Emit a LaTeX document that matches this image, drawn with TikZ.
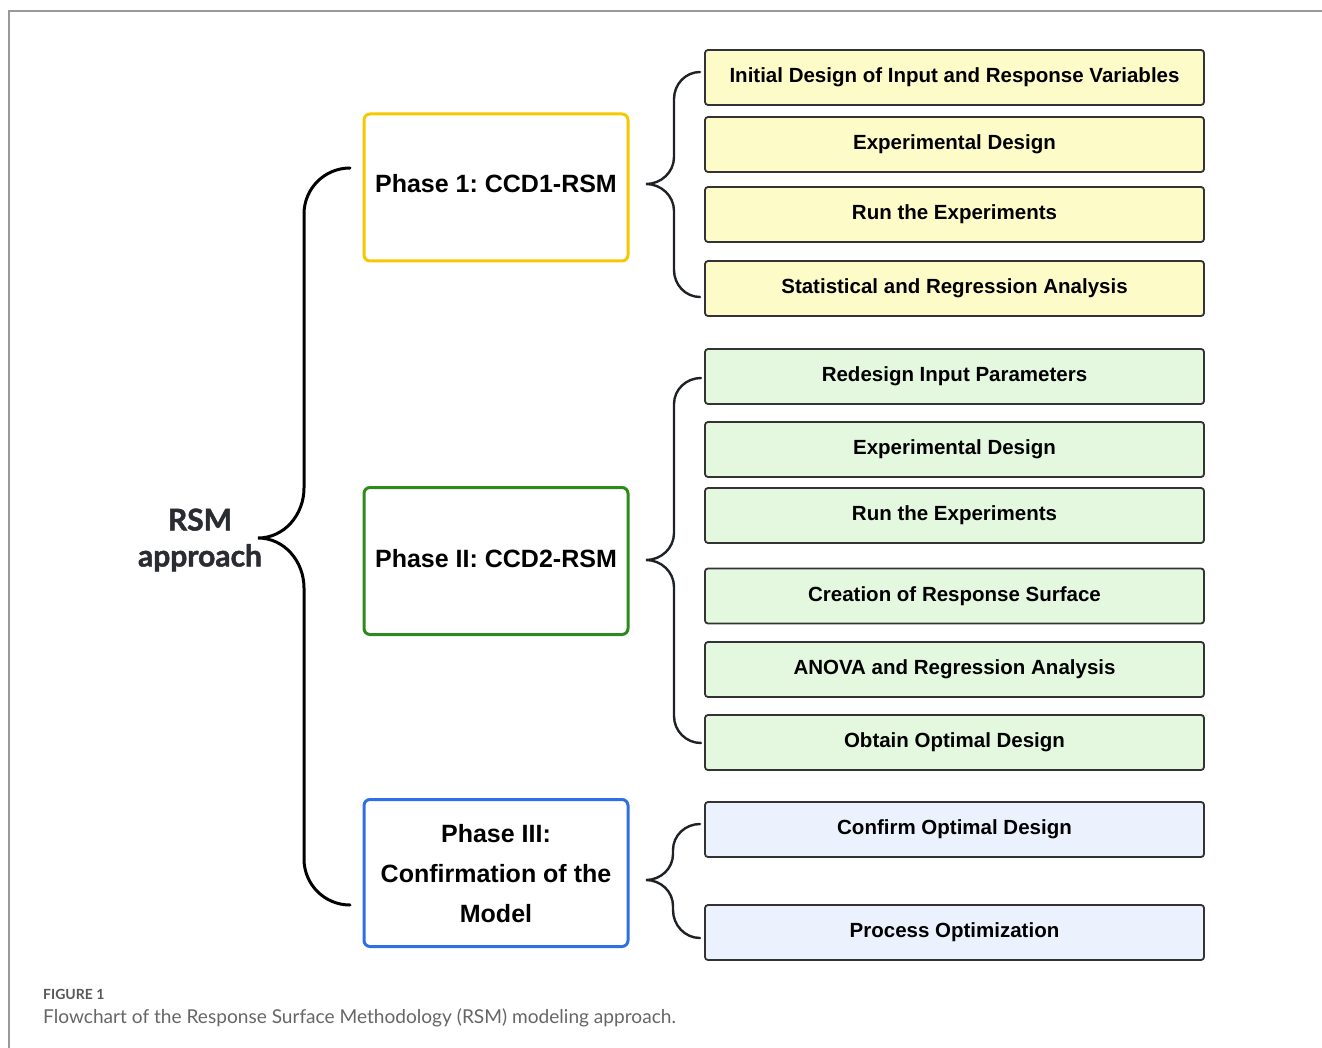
\documentclass[tikz,border=0pt]{standalone}
\usepackage{fontspec}
\setmainfont{Liberation Sans}
\newfontfamily\latofont{Lato}
\newfontfamily\latobold{Lato Bold}
\newfontfamily\latoheavy{Lato Bold}[FakeBold=1.6]
\usetikzlibrary{positioning,calc}
\frenchspacing

\definecolor{phaseone}{HTML}{F5C800}
\definecolor{phasetwo}{HTML}{2E8A1C}
\definecolor{phasethree}{HTML}{2F6FE3}
\definecolor{fillone}{HTML}{FDFBC8}
\definecolor{filltwo}{HTML}{E3F8DF}
\definecolor{fillthree}{HTML}{EBF2FD}
\definecolor{boxline}{HTML}{333333}
\definecolor{bracecol}{HTML}{1E2226}
\definecolor{rsmtext}{HTML}{2A2C32}
\definecolor{captiongray}{HTML}{666666}

\begin{document}
\begin{tikzpicture}[x=1pt, y=-1pt,
      phase/.style={draw, fill=white, line width=3pt, rounded corners=6pt,
        minimum width=264pt, minimum height=147pt, align=center,
        font=\fontsize{25}{40}\selectfont\bfseries},
      stepbox/.style={draw=boxline, line width=1.8pt, rounded corners=3pt,
        minimum width=499pt, minimum height=55pt,
        font=\fontsize{20.5}{24}\selectfont\bfseries},
      bigbrace/.style={draw=black, line width=3pt, line cap=round},
      smallbrace/.style={draw=bracecol, line width=2.4pt, line cap=round}]
      \useasboundingbox (0,0) rectangle (1322,1048);
      % frame round the figure
      \draw[gray!80, line width=1.4pt] (1322,11) -- (9,11) -- (9,1048);

      \node[font=\latoheavy\fontsize{30}{36}\selectfont,
        text=rsmtext, align=center] (rsm) at (200,540) {RSM\\approach};

      % the three phases
      \node[phase, draw=phaseone, text depth=8pt] (ph1) at (496,187.5)
        {Phase 1: CCD1-RSM};
      \node[phase, draw=phasetwo, text depth=6pt] (ph2) at (496,561)
        {Phase II: CCD2-RSM};
      \node[phase, draw=phasethree, text depth=0pt] (ph3) at (496,873)
        {Phase III:\\Confirmation of the\\Model};

      % steps of phase 1
      \node[stepbox, fill=fillone] (s11) at (954.5,77.5)
        {Initial Design of Input and Response Variables};
      \node[stepbox, fill=fillone] (s12) at (954.5,144.5) {Experimental Design};
      \node[stepbox, fill=fillone] (s13) at (954.5,214.5) {Run the Experiments};
      \node[stepbox, fill=fillone] (s14) at (954.5,288.5)
        {Statistical and Regression Analysis};

      % steps of phase 2
      \node[stepbox, fill=filltwo] (s21) at (954.5,376.5) {Redesign Input Parameters};
      \node[stepbox, fill=filltwo] (s22) at (954.5,449.5) {Experimental Design};
      \node[stepbox, fill=filltwo] (s23) at (954.5,515.5) {Run the Experiments};
      \node[stepbox, fill=filltwo] (s24) at (954.5,596) {Creation of Response Surface};
      \node[stepbox, fill=filltwo] (s25) at (954.5,669.5)
        {ANOVA and Regression Analysis};
      \node[stepbox, fill=filltwo] (s26) at (954.5,742.5) {Obtain Optimal Design};

      % steps of phase 3
      \node[stepbox, fill=fillthree] (s31) at (954.5,829.5) {Confirm Optimal Design};
      \node[stepbox, fill=fillthree] (s32) at (954.5,932.5) {Process Optimization};

      % big brace: rsm -> phases
      \coordinate (b0tip) at (258,538);
      \coordinate (b0top) at (350,168);
      \coordinate (b0bot) at (350,905);
      \path[bigbrace] (b0top) to[out=180,in=90] (304,214) -- (304,488)
        to[out=-90,in=0] (b0tip) to[out=0,in=90] (304,588) -- (304,859)
        to[out=-90,in=180] (b0bot);

      % brace of phase 1
      \coordinate (b1tip) at (646,184);
      \coordinate (b1top) at (700,72);
      \coordinate (b1bot) at (700,297);
      \path[smallbrace] (b1top) to[out=180,in=90] (674,99) -- (674,157)
        to[out=-90,in=0] (b1tip) to[out=0,in=90] (674,211) -- (674,270)
        to[out=-90,in=180] (b1bot);

      % brace of phase 2
      \coordinate (b2tip) at (646,560);
      \coordinate (b2top) at (701,378);
      \coordinate (b2bot) at (701,743);
      \path[smallbrace] (b2top) to[out=180,in=90] (674,404) -- (674,533)
        to[out=-90,in=0] (b2tip) to[out=0,in=90] (674,587) -- (674,716)
        to[out=-90,in=180] (b2bot);

      % brace of phase 3
      \coordinate (b3tip) at (646,880);
      \coordinate (b3top) at (700,824);
      \coordinate (b3bot) at (700,938);
      \path[smallbrace] (b3top) to[out=180,in=90] (673,850) -- (673,854)
        to[out=-90,in=0] (b3tip) to[out=0,in=90] (673,906) -- (673,910)
        to[out=-90,in=180] (b3bot);

      % caption
      \node[anchor=base west, inner sep=0pt, text=captiongray!85!black,
        font=\latobold\fontsize{14}{16}\selectfont] (fig) at (43,999) {FIGURE 1};
      \node[anchor=base west, inner sep=0pt, text=captiongray,
        font=\latofont\fontsize{19.1}{21}\selectfont] (cap) at (43,1023)
        {Flowchart of the Response Surface Methodology (RSM) modeling approach.};
    \end{tikzpicture}
\end{document}
